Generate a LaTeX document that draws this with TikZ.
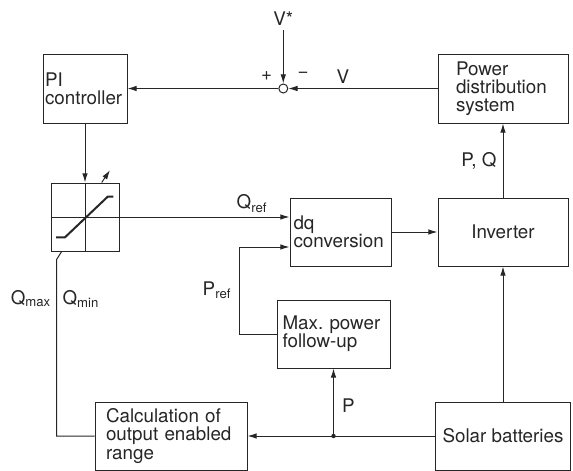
\documentclass[tikz,border=0pt]{standalone}
\usepackage{fontspec}
\setmainfont{TeX Gyre Heros}
\usepackage{tikz}
\usetikzlibrary{arrows.meta}

\tikzset{
  blk/.style={draw, line width=0.5pt, minimum height=34pt, inner ysep=0pt},
  lnk/.style={line width=0.5pt, -{Latex[length=4.6pt,width=2.8pt]}},
  lbl/.style={inner sep=1pt},
}

\begin{document}
\begin{tikzpicture}[x=0.5pt,y=-0.5pt,font=\fontsize{9.4}{9.1}\selectfont,color=black!85]
\useasboundingbox (0,0) rectangle (573,471);

\node[blk, minimum height=34.5pt, text width=40pt, inner xsep=1pt, align=left] (pi) at (85,88.5) {PI\\controller};
\node[blk, minimum height=34.5pt, text width=47pt, inner xsep=9pt, align=left] (pds) at (503,88.5) {Power\\distribution\\system};
\node[circle, draw, line width=0.5pt, minimum size=4.5pt, inner sep=0pt] (sum) at (283.3,88.5) {};
\node[inner sep=2pt] (vref) at (283.3,18.5) {V*};
\node[lbl] (plus) at (266.7,76) {+};
\node[lbl] (minus) at (303,75) {\char"2212};
\node[lbl] (vmeas) at (343,76.5) {V};

\draw[lnk] (vref) -- (sum);
\draw[lnk] (pds) -- (sum);
\draw[lnk] (sum) -- (pi);

\node[blk, minimum width=34pt, inner sep=0pt] (lim) at (85,217) {};
\draw[line width=0.5pt] (lim.north) -- (lim.south) (lim.west) -- (lim.east);
\draw[line width=1pt] (56,237.3) -- (65,237.3) -- (107.7,196.7) -- (113.3,196.7);
\draw[lnk] ([xshift=8.35pt]lim.north) -- ([xshift=12.5pt,yshift=6.15pt]lim.north);
\draw[lnk] (pi) -- (lim);

\node[blk, text width=47pt, inner xsep=1.75pt, align=left] (dq) at (340.5,232) {dq\\conversion};
\node[blk, minimum width=65pt, align=center] (inv) at (503,232) {Inverter};
\node[blk, text width=51pt, inner xsep=2.75pt, align=left] (maxp) at (333.5,334) {Max.\ power\\follow-up};
\node[blk, text width=65pt, inner xsep=5.5pt, align=left] (calc) at (171,436) {Calculation of\\output enabled\\range};
\node[blk, minimum width=64.5pt, align=center] (solar) at (503,436) {Solar batteries};

\draw[lnk] (lim.east) -- (lim.east -| dq.west) node[pos=0.78, above, inner sep=2pt] (qref) {Q\textsubscript{ref}};
\draw[lnk] (dq) -- (inv);
\draw[lnk] (inv) -- (pds) node[midway, left, inner sep=3pt] (pq) {P, Q};
\draw[lnk] (solar) -- (inv);

\coordinate (jp) at (maxp.south |- solar.west);
\draw[line width=0.5pt] (solar.west) -- (jp);
\draw[lnk] (jp) -- (calc.east);
\fill (jp) circle (1.1pt);
\draw[lnk] (jp) -- (maxp.south) node[pos=0.45, right, inner sep=4pt] (plbl) {P};
\draw[lnk] (maxp.west) -- ++(-37.5,0) |- ([yshift=-7.5pt]dq.west) node[pos=0.25, left, inner sep=3.5pt] (pref) {P\textsubscript{ref}};

\coordinate (qtap) at (56.7,259.3);
\draw[line width=0.5pt] (calc.west) -| (qtap) -- ([xshift=-11.65pt]lim.south);
\node[lbl] (qmax) at (31,299) {Q\textsubscript{max}};
\node[lbl] (qmin) at (81,299) {Q\textsubscript{min}};
\end{tikzpicture}
\end{document}
